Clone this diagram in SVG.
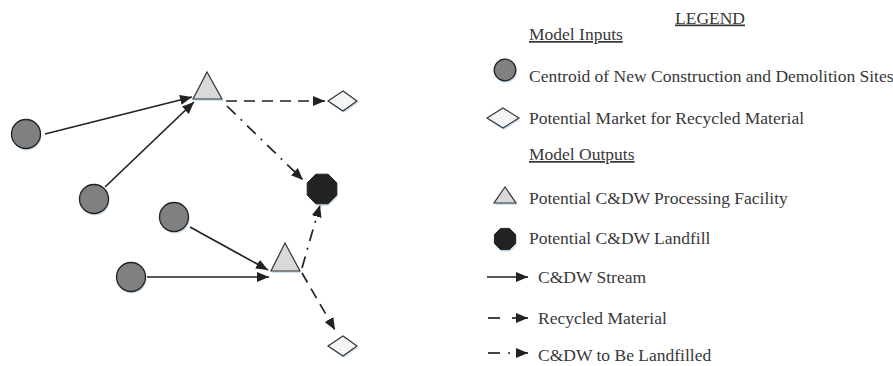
<svg xmlns="http://www.w3.org/2000/svg" width="893" height="366" viewBox="0 0 893 366">
<defs>
<style>
.txt{font-family:"Liberation Serif","Times New Roman",serif;font-size:17.5px;fill:#383838}
.u{text-decoration:underline}
.site{fill:#808080;stroke:#222;stroke-width:1.3}
.fac{fill:#d9d9d9;stroke:#333;stroke-width:1.2}
.mkt{fill:#f4f4f4;stroke:#333;stroke-width:1.2}
.lf{fill:#222;stroke:#222;stroke-width:1}
.sh{fill:#cde0f2;stroke:none}
.flow{fill:none;stroke:#222;stroke-width:1.7}
.stream{marker-end:url(#ah)}
.recyc{stroke-dasharray:11,7;marker-end:url(#ah)}
.landf{stroke-dasharray:12,7,2,7;marker-end:url(#ah)}
</style>
<marker id="ah" markerUnits="userSpaceOnUse" markerWidth="14" markerHeight="12" refX="12" refY="5" orient="auto">
<path d="M0,0 L12,5 L0,10 z" fill="#222"/>
</marker>
</defs>
<rect width="893" height="366" fill="#fff"/>

<g id="connectors">
<line class="flow stream" x1="45" y1="134" x2="192" y2="97"/>
<line class="flow stream" x1="105" y1="187" x2="194" y2="102"/>
<line class="flow recyc" x1="226" y1="101" x2="325" y2="101"/>
<line class="flow landf" x1="227" y1="106" x2="303" y2="180"/>
<line class="flow stream" x1="190" y1="227" x2="268" y2="270"/>
<line class="flow stream" x1="147" y1="277" x2="269" y2="277"/>
<line class="flow landf" x1="302" y1="268" x2="320" y2="205"/>
<line class="flow recyc" x1="302" y1="273" x2="335" y2="330"/>
</g>

<g id="site1"><circle class="sh" cx="27" cy="136" r="14.5"/><circle class="site" cx="26" cy="134" r="14.5"/></g>
<g id="site2"><circle class="sh" cx="95" cy="201" r="14.5"/><circle class="site" cx="94" cy="199" r="14.5"/></g>
<g id="site3"><circle class="sh" cx="175" cy="219" r="14.5"/><circle class="site" cx="174" cy="217" r="14.5"/></g>
<g id="site4"><circle class="sh" cx="132" cy="279" r="14.5"/><circle class="site" cx="131" cy="277" r="14.5"/></g>

<g id="facility1"><polygon class="sh" points="208,74 194,101 223,101"/><polygon class="fac" points="207,72 193,99 222,99"/></g>
<g id="facility2"><polygon class="sh" points="286,245 272,273 301,273"/><polygon class="fac" points="285,243 271,271 300,271"/></g>

<g id="market1"><polygon class="sh" points="329,103 344,93 358,103 344,113"/><polygon class="mkt" points="328,101 343,91 357,101 343,111"/></g>
<g id="market2"><polygon class="sh" points="329,348 344,338 358,348 344,358"/><polygon class="mkt" points="328,346 343,336 357,346 343,356"/></g>

<g id="landfill"><polygon class="sh" points="329.1,176.2 337.8,184.9 337.8,197.1 329.1,205.8 316.9,205.8 308.2,197.1 308.2,184.9 316.9,176.2"/><polygon class="lf" points="328.1,174.2 336.8,182.9 336.8,195.1 328.1,203.8 315.9,203.8 307.2,195.1 307.2,182.9 315.9,174.2"/></g>

<g id="legend">
<text class="txt u" x="675" y="23.5">LEGEND</text>
<text class="txt u" x="529" y="40">Model Inputs</text>
<circle class="sh" cx="506" cy="72" r="10.8"/><circle class="site" cx="505" cy="70" r="10.8"/>
<text class="txt" x="529" y="82">Centroid of New Construction and Demolition Sites</text>
<polygon class="sh" points="488,120 504,110 520,120 504,130"/><polygon class="mkt" points="487,118 503,108 519,118 503,128"/>
<text class="txt" x="529" y="123.5">Potential Market for Recycled Material</text>
<text class="txt u" x="529" y="160">Model Outputs</text>
<polygon class="sh" points="506,189 495,205 517,205"/><polygon class="fac" points="505,187 494,203 516,203"/>
<text class="txt" x="529" y="203.5">Potential C&amp;DW Processing Facility</text>
<polygon class="sh" points="510.4,230.4 516.6,236.6 516.6,245.4 510.4,251.6 501.6,251.6 495.4,245.4 495.4,236.6 501.6,230.4"/><polygon class="lf" points="509.4,228.4 515.6,234.6 515.6,243.4 509.4,249.6 500.6,249.6 494.4,243.4 494.4,234.6 500.6,228.4"/>
<text class="txt" x="529" y="244">Potential C&amp;DW Landfill</text>
<line class="flow stream" x1="487" y1="277" x2="528" y2="277"/>
<text class="txt" x="538" y="282.5">C&amp;DW Stream</text>
<line class="flow" x1="488" y1="318" x2="500" y2="318"/>
<line class="flow stream" x1="512" y1="318" x2="528" y2="318"/>
<text class="txt" x="538" y="323.5">Recycled Material</text>
<line class="flow" x1="488" y1="353" x2="500" y2="353"/>
<line class="flow" x1="508" y1="353" x2="510" y2="353"/>
<line class="flow stream" x1="516" y1="353" x2="528" y2="353"/>
<text class="txt" x="538" y="361">C&amp;DW to Be Landfilled</text>
</g>
</svg>
